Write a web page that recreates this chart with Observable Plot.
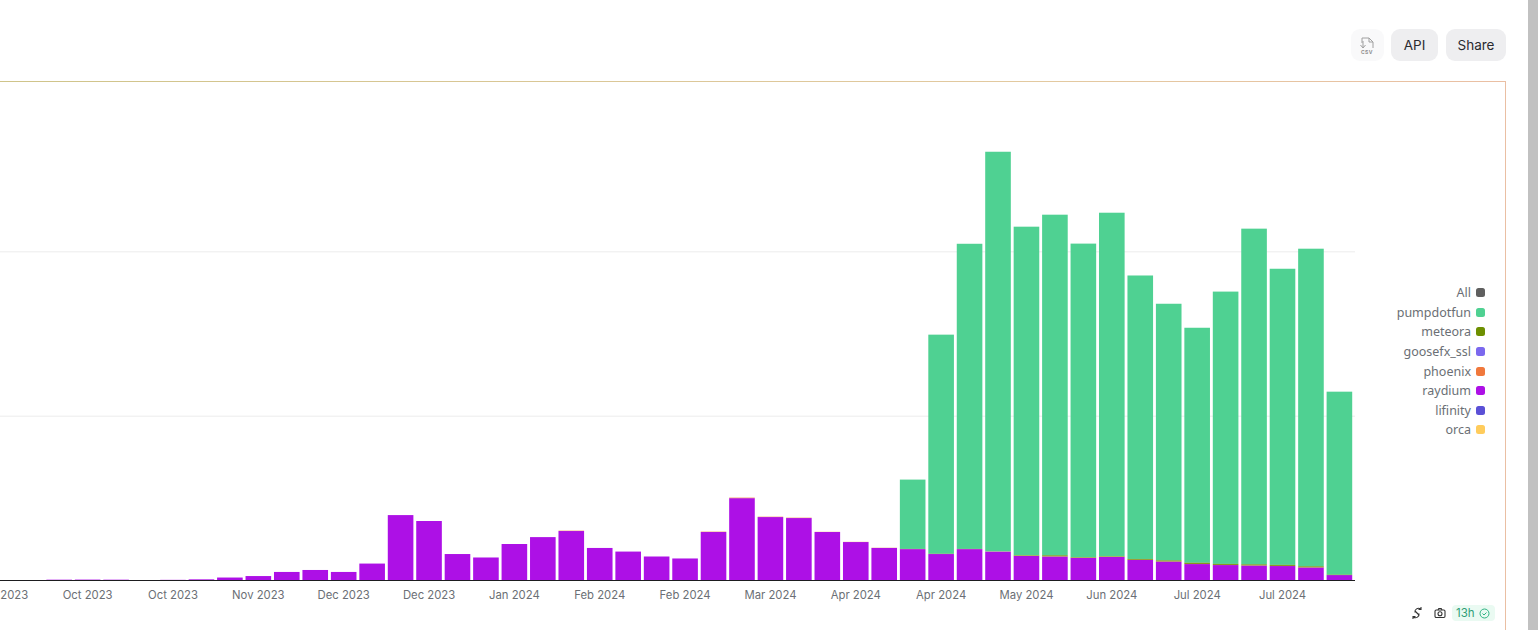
<!DOCTYPE html>
<html><head><meta charset="utf-8">
<script src="https://cdn.jsdelivr.net/npm/d3@7"></script>
<script src="https://cdn.jsdelivr.net/npm/@observablehq/plot@0.6"></script>
<style>
html,body{margin:0;padding:0;background:#fff;width:1538px;height:630px;overflow:hidden;font-family:Inter,sans-serif}
#chart{position:absolute;left:0;top:0}
#frameTop{position:absolute;left:0;top:81px;width:1506px;height:1px;background:linear-gradient(90deg,#cfc48a,#e3c9a0 70%,#eabfa3)}
#frameRight{position:absolute;left:1505px;top:81px;width:1px;height:549px;background:#eabfa3}
#scroll{position:absolute;left:1528px;top:0;width:10px;height:630px;background:#c1c1c1}
.btn{position:absolute;top:29px;height:32px;line-height:32px;text-align:center;border-radius:9px;background:#eeeef0;color:#2a2a30;font-size:13.5px}
#csv{position:absolute;left:1351px;top:29px;width:33px;height:32px;border-radius:9px;background:#f9f9fa}
#legend{position:absolute;right:53px;top:283px;font-family:"Noto Sans",sans-serif;font-size:12.5px;color:#6b6f75}
#legend div{display:flex;justify-content:flex-end;align-items:center;height:19.6px}
#legend i{display:block;width:9px;height:9px;border-radius:2.5px;margin-left:5px}
#foot{position:absolute;left:1410px;top:605px;height:16px;display:flex;align-items:center}
#badge{position:absolute;left:42px;top:0;width:43px;height:16px;border-radius:4px;background:#eafaf2;color:#2f9e77;font-size:11.5px;line-height:16px;padding-left:4px;box-sizing:border-box}
</style></head><body>
<div id="chart"></div>
<div id="frameTop"></div>
<div id="frameRight"></div>
<div id="scroll"></div>
<div id="csv"><svg width="33" height="32" viewBox="0 0 33 32" fill="none" stroke="#a0a0a0" stroke-width="1"><path d="M11 14V9h7l4 4v6M18 9v4h4M9.500 16l2.500 3 2.500-3M12 12v7"/><text x="16" y="24.500" font-size="5" font-weight="700" letter-spacing=".5" stroke="none" fill="#8f8f8f" text-anchor="middle" font-family="Inter">CSV</text></svg></div>
<div class="btn" style="left:1391px;width:47px">API</div>
<div class="btn" style="left:1446px;width:60px">Share</div>
<div id="legend"></div>
<div id="foot">
<svg width="14" height="14" viewBox="0 0 14 14" style="position:absolute;left:0;top:1px" fill="none" stroke="#333" stroke-width="1.1"><path d="M5 6.500A3.500 3.500 0 0 1 10.500 3M9 7.500A3.500 3.500 0 0 1 3.500 11M5 5l4 4M11 1v2.500H8.500M3 13v-2.500h2.500"/></svg>
<svg width="14" height="14" viewBox="0 0 14 14" style="position:absolute;left:23px;top:1px" fill="none" stroke="#333" stroke-width="1.1"><rect x="2" y="4" width="10" height="7.500" rx="1.200"/><circle cx="7" cy="7.700" r="2"/><path d="M5 4l.8-1.500h2.400L9 4"/></svg>
<div id="badge">13h<svg width="11" height="11" viewBox="0 0 11 11" style="position:absolute;left:27px;top:2.500px" fill="none" stroke="#2fb383" stroke-width="1"><circle cx="5.500" cy="5.500" r="4.500"/><path d="M3.500 5.500l1.500 1.500 2.500-2.500"/></svg></div>
</div>
<script>
const weeks = ["2023-09-11","2023-09-18","2023-09-25","2023-10-02","2023-10-09","2023-10-16","2023-10-23","2023-10-30","2023-11-06","2023-11-13","2023-11-20","2023-11-27","2023-12-04","2023-12-11","2023-12-18","2023-12-25","2024-01-01","2024-01-08","2024-01-15","2024-01-22","2024-01-29","2024-02-05","2024-02-12","2024-02-19","2024-02-26","2024-03-04","2024-03-11","2024-03-18","2024-03-25","2024-04-01","2024-04-08","2024-04-15","2024-04-22","2024-04-29","2024-05-06","2024-05-13","2024-05-20","2024-05-27","2024-06-03","2024-06-10","2024-06-17","2024-06-24","2024-07-01","2024-07-08","2024-07-15","2024-07-22","2024-07-29","2024-08-05"];
const raydium = [0,0,0.2,0.25,0.2,0,0.1,0.4,1.5,2.4,4.9,6.1,4.9,10,39.5,35.9,15.8,13.7,21.9,26.1,29.8,19.5,17.3,14.3,13.1,29.2,49.8,38.3,37.7,29.2,23.1,19.5,18.8,15.8,18.8,17.3,14.6,14.3,13.4,14,12.2,11.2,9.7,9.1,8.8,8.5,7.6,3];
const pumpdotfun = [0,0,0,0,0,0,0,0,0,0,0,0,0,0,0,0,0,0,0,0,0,0,0,0,0,0,0,0,0,0,0,0,42.2,133.4,185.7,243.2,200,207.3,190.9,209.1,172.5,156.2,143,165.7,204.3,180.2,193.3,111.4];
const meteora = [0,0,0,0,0,0,0,0,0,0,0,0,0,0,0,0,0,0,0,0,0,0,0,0,0,0,0,0,0,0,0,0,0,0,0,0,0.3,0.6,0.3,0.3,0.5,0.6,0.7,0.6,0.6,0.6,0.6,0.2];
const phoenix = [0,0,0,0,0,0,0,0,0,0,0,0,0,0,0,0,0,0,0,0,0.2,0,0,0,0,0.2,0.3,0.2,0.2,0.1,0.1,0.1,0.1,0.1,0.1,0.1,0.1,0.1,0.1,0.1,0.1,0.1,0.1,0.1,0.1,0.1,0.1,0];
const seriesNames = ["orca","lifinity","raydium","phoenix","goosefx_ssl","meteora","pumpdotfun"];
const legendNames = ["All","pumpdotfun","meteora","goosefx_ssl","phoenix","raydium","lifinity","orca"];
const legendColors = ["#5f5f5f","#4fd192","#6d8f00","#7b68ee","#f0783c","#ad10e6","#5b50d6","#ffcc5c"];
const seriesValues = {raydium, pumpdotfun, meteora, phoenix};
const rows = Object.entries(seriesValues).flatMap(([series, vals]) => vals.map((value, i) => ({week: weeks[i], series, value}))).filter(d => d.value > 0);
const fmt = d3.utcFormat("%b %Y");
const chart = Plot.plot({
  width: 1538, height: 630,
  marginLeft: 0, marginRight: 183, marginTop: 87, marginBottom: 50,
  style: {background: "transparent", fontFamily: "Inter, sans-serif"},
  x: {type: "band", domain: weeks, range: [-13.35, 1355.05], padding: 0.1, round: false, align: 0.5, label: null},
  y: {domain: [0, 300], range: [580, 87], label: null},
  color: {domain: legendNames, range: legendColors},
  marks: [
    Plot.ruleY([100, 200], {stroke: "#ececec", strokeWidth: 1}),
    Plot.ruleY([0], {stroke: "#1d1d1f", strokeWidth: 1}),
    Plot.barY(rows, {x: "week", y: "value", fill: "series", order: seriesNames, inset: 0}),
    Plot.axisX({
      ticks: weeks.filter((d, i) => i % 3 === 0),
      tickSize: 0, tickPadding: 10, label: null,
      tickFormat: d => fmt(new Date(d)),
      fill: "#6b6f75", fontSize: 11.3, dx: -0.5
    }),
    Plot.axisY({ticks: [], label: null})
  ]
});
document.getElementById("chart").append(chart);
const lg = document.getElementById("legend");
legendNames.forEach((n, i) => {
  const row = document.createElement("div");
  row.innerHTML = `<span>${n}</span><i style="background:${legendColors[i]}"></i>`;
  lg.append(row);
});
</script>
</body></html>
